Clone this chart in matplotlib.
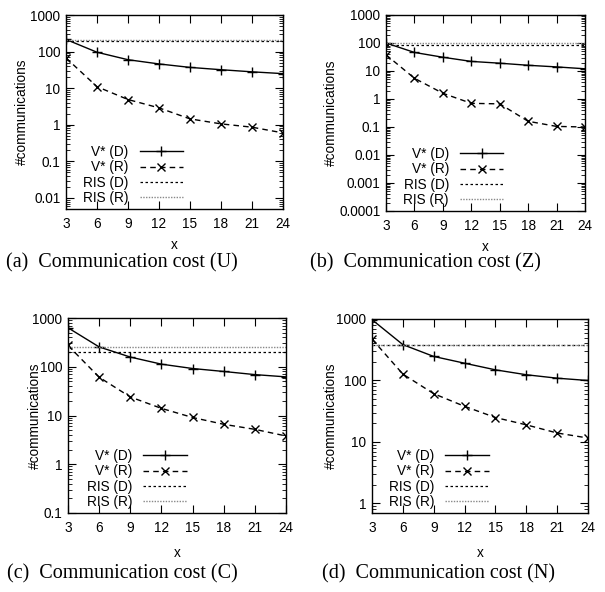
import matplotlib
matplotlib.use('Agg')
import matplotlib.pyplot as plt
from matplotlib.ticker import LogLocator, FuncFormatter, NullFormatter

plt.rcParams['font.family'] = 'Liberation Sans'

x = [3, 6, 9, 12, 15, 18, 21, 24]

# panel (a) U
vd_u = [215, 96, 60, 46, 37, 32, 28, 25]
vr_u = [67, 11, 4.9, 2.9, 1.45, 1.06, 0.86, 0.6]
risd_u = 200
risr_u = 203

# panel (b) Z
vd_z = [100, 46, 31, 22, 19, 16, 14, 12]
vr_z = [38, 5.5, 1.6, 0.7, 0.67, 0.16, 0.105, 0.1]
risd_z = 88
risr_z = 102

# panel (c) C
vd_c = [630, 255, 158, 113, 92, 80, 69, 62]
vr_c = [273, 61, 24, 14, 9.1, 6.6, 5.2, 3.8]
risd_c = 205
risr_c = 256

# panel (d) N
vd_n = [975, 383, 246, 191, 149, 124, 109, 100]
vr_n = [472, 127, 61, 38, 25, 19, 14, 11.6]
risd_n = 380
risr_n = 383

W, H = 605, 592
fig = plt.figure(figsize=(W/100, H/100), dpi=100)

def box(l, t, r, b):
    return [l/W, 1-b/H, (r-l)/W, (b-t)/H]

panels = [
    (box(66, 15, 283, 209), vd_u, vr_u, risd_u, risr_u, (0.005, 1000), -0.17, -0.15, (0.54, 0.02)),
    (box(386, 15, 585, 211), vd_z, vr_z, risd_z, risr_z, (0.0001, 1000), -0.24, -0.15, (0.59, 0.02)),
    (box(68, 318, 286, 513), vd_c, vr_c, risd_c, risr_c, (0.1, 1000), -0.12, -0.17, (0.546, 0.02)),
    (box(372, 319, 588, 513), vd_n, vr_n, risd_n, risr_n, (0.7, 1000), -0.157, -0.17, (0.54, 0.02)),
]
captions = [
    (122, 263, '(a)  Communication cost (U)'),
    (425, 263, '(b)  Communication cost (Z)'),
    (122, 574, '(c)  Communication cost (C)'),
    (438, 574, '(d)  Communication cost (N)'),
]

fs = 9.8
for rect, vd, vr, rd, rr, ylim, ylx, xly, leg in panels:
    ax = fig.add_axes(rect)
    ax.plot(x, vd, 'k-', lw=1, marker='+', ms=7, mew=1, label='V* (D)')
    ax.plot(x, vr, 'k--', lw=1, marker='x', ms=6, mew=1, dashes=(4, 3), label='V* (R)')
    ax.plot([3, 24], [rd, rd], color='k', lw=0.9, ls=(0, (2, 2)), label='RIS (D)')
    ax.plot([3, 24], [rr, rr], color='#888888', lw=1, ls=(0, (1, 1)), label='RIS (R)')
    ax.set_yscale('log')
    ax.set_xlim(3, 24)
    ax.set_ylim(*ylim)
    ax.set_xticks(x)
    ax.yaxis.set_major_locator(LogLocator(base=10, numticks=20))
    ax.yaxis.set_minor_locator(LogLocator(base=10, subs=range(2, 10), numticks=20))
    ax.yaxis.set_major_formatter(FuncFormatter(lambda v, p: '%g' % v))
    ax.yaxis.set_minor_formatter(NullFormatter())
    ax.tick_params(which='both', direction='in', top=True, right=True, labelsize=fs)
    ax.tick_params(axis='y', pad=4)
    ax.tick_params(axis='x', pad=6)
    ax.tick_params(which='major', length=6)
    ax.tick_params(which='minor', length=3)
    for s in ax.spines.values():
        s.set_linewidth(1)
    ax.set_ylabel('#communications', fontsize=fs)
    ax.yaxis.set_label_coords(ylx, 0.5)
    ax.set_xlabel('x', fontsize=fs)
    ax.xaxis.set_label_coords(0.5, xly)
    ax.legend(loc='lower right', bbox_to_anchor=leg, frameon=False, markerfirst=False,
              fontsize=fs, handlelength=3.2, labelspacing=0.1, handletextpad=0.8,
              borderaxespad=0, borderpad=0)

for cx, cy, t in captions:
    fig.text(cx/W, 1-cy/H, t, ha='center', va='center', fontsize=14.5,
             family='Liberation Serif')

fig.savefig('out.png', dpi=100)
